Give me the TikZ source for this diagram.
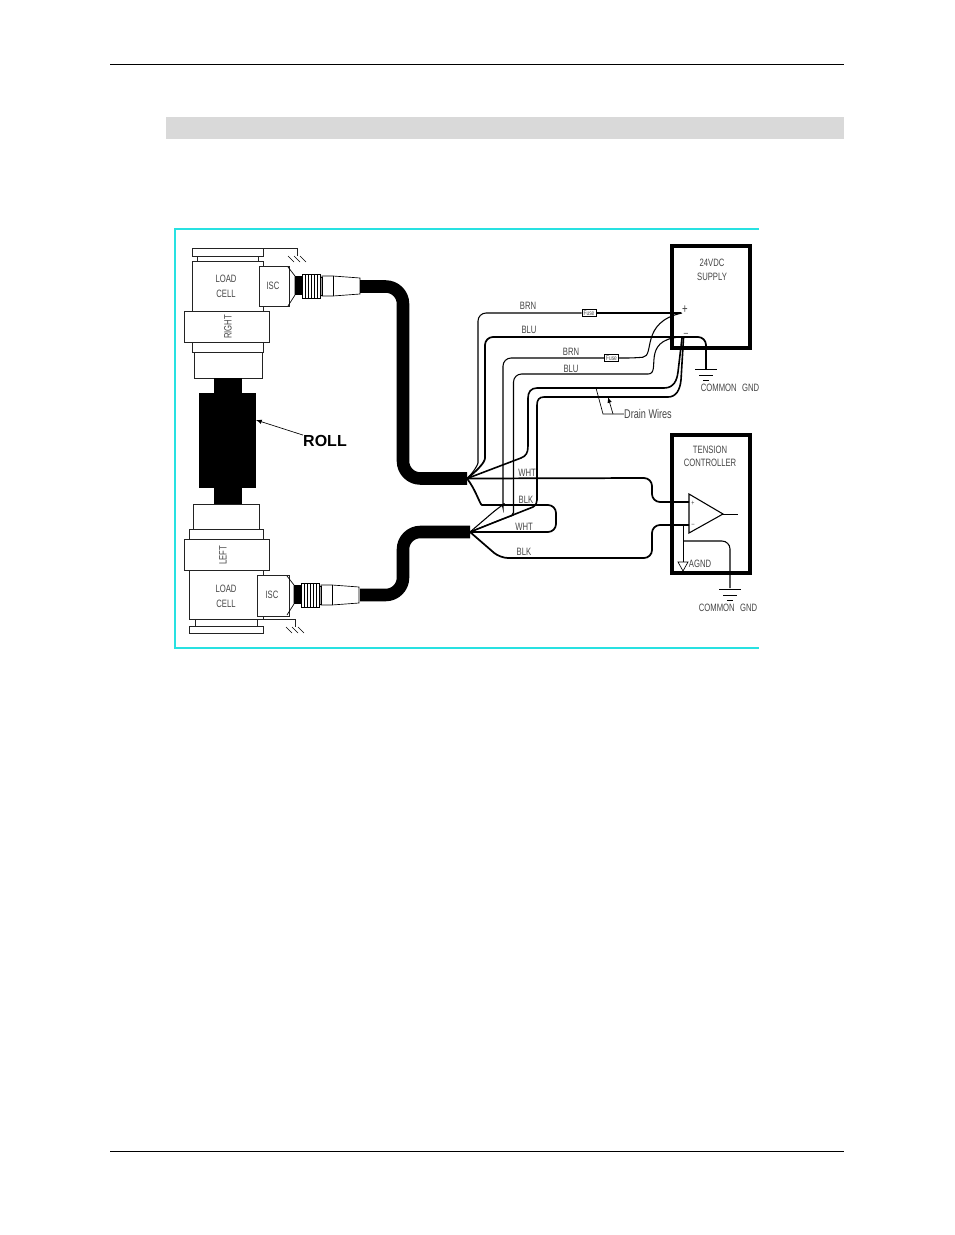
\documentclass[tikz,border=0pt]{standalone}
\usepackage{fontspec}
\setmainfont[FakeStretch=.72]{Liberation Sans}
\newfontfamily\rollfont{Liberation Sans}
\definecolor{framecyan}{RGB}{40,225,225}
\definecolor{bargray}{RGB}{217,217,217}
\definecolor{inktext}{RGB}{70,70,70}
\definecolor{inkpart}{RGB}{35,35,35}
\newcommand{\drawpart}{\draw[line width=.6pt,inkpart]}
\newcommand{\drawbox}{\draw[line width=2.4pt]}
\newcommand{\drawwire}{\draw[line width=.8pt,rounded corners=6pt]}
\newcommand{\drawwirethick}{\draw[line width=1.3pt,rounded corners=6pt]}
\newcommand{\drawdrain}{\draw[line width=1.2pt]}
\newcommand{\drawcable}{\draw[line width=9.4pt,rounded corners=13pt]}
\newcommand{\groundhatch}[2]{
    \foreach \s in {-6,0,6}{
      \draw[line width=.4pt] (#1+\s-3,#2)--(#1+\s+3,#2+6);
    }
}
\newcommand{\groundlines}[2]{
    \draw[line width=.7pt] (#1-11,#2)--(#1+11,#2);
    \draw[line width=.7pt] (#1-7,#2+6)--(#1+7,#2+6);
    \draw[line width=.7pt] (#1-3,#2+11)--(#1+3,#2+11);
}
\newcommand{\drawplug}[2]{
    \draw[line width=.5pt] (#1-2,#2-19)--(#1+5,#2-10)--(#1+5,#2+9)--(#1-2,#2+20);
    \fill (#1+5,#2-10) rectangle ++(7,19);
    \draw[line width=.5pt] (#1+12,#2-12) rectangle ++(18,24);
    \foreach \k in {1,...,5}{
      \draw[line width=.5pt] (#1+12+3*\k,#2-12)--++(0,24);
    }
    \draw[line width=.5pt] (#1+30,#2-9) rectangle ++(2,18);
    \draw[line width=.5pt] (#1+32,#2-10)--++(11,0)--++(27,2)--++(0,16)--++(-27,2)--++(-11,0)--cycle;
    \draw[line width=.5pt] (#1+43,#2-10)--++(0,20);
}
\tikzset{
  every node/.style={inner sep=0pt,text=inktext,font=\fontsize{8}{9}\selectfont},
  wirelabel/.style={font=\fontsize{8}{9}\selectfont},
  fusebox/.style={draw=black,line width=.5pt,fill=white,minimum width=10.5pt,minimum height=5pt,font=\fontsize{5}{5}\selectfont},
}
\begin{document}
\begin{tikzpicture}[x=.75pt,y=-.75pt]
\useasboundingbox (0,0) rectangle (954,1235);
\fill[white] (0,0) rectangle (954,1235);
\draw[line width=.75pt] (110,64)--(844,64);
\draw[line width=.75pt] (110,1151)--(844,1151);
\fill[bargray] (166,117) rectangle (844,139);
\draw[framecyan,line width=1.4pt] (759,229)--(175,229)--(175,648)--(759,648);

\drawpart (192,248) rectangle (263,256);
\drawpart (263,248)--++(34,0)--++(0,8);
\groundhatch{297}{256}
\drawpart (197,256) rectangle (258,261);
\drawpart (192,261) rectangle (263,311);
\drawpart (192,342) rectangle (263,352);
\drawpart (194,352) rectangle (262,378);
\drawpart (184,311) rectangle (269,342);
\drawpart[fill=white] (259,266) rectangle (289,306);
\node (loadright) at (226,286) [align=center] {LOAD\\[2.5pt]CELL};
\node (iscright) at (273,286) {ISC};
\node (bandright) at (228,327) [rotate=90] {RIGHT};

\fill (214,378) rectangle (242,393);
\fill (199,393) rectangle (256,488);
\fill (214,488) rectangle (242,504);
\node (roll) at (325,441) [font=\rollfont\bfseries\fontsize{12}{13}\selectfont,text=black] {ROLL};
\coordinate (rollhit) at (256,420);
\draw[line width=.5pt,-latex] (roll.north west)--(rollhit);

\drawpart (193,504) rectangle (259,529);
\drawpart (189,529) rectangle (263,539);
\drawpart (184,539) rectangle (269,570);
\drawpart (189,570) rectangle (263,619);
\drawpart[fill=white] (257,575) rectangle (289,616);
\drawpart (195,619) rectangle (257,626);
\drawpart (189,626) rectangle (263,633);
\drawpart (257,619)--++(38,0)--++(0,8);
\groundhatch{295}{627}
\node (bandleft) at (223,555) [rotate=90] {LEFT};
\node (loadleft) at (226,596) [align=center] {LOAD\\[2.5pt]CELL};
\node (iscleft) at (272,595) {ISC};

\drawplug{290}{286}
\drawplug{289}{595}

\coordinate (cableA) at (467,478.5);
\coordinate (cableB) at (470,532);
\drawcable (360,286.5)--(403,286.5)--(403,478.5)--(cableA);
\drawcable (360,595)--(403,595)--(403,532)--(cableB);

\drawbox (672,246) rectangle (750,348);
\drawbox (672,435) rectangle (750,573);
\node (supply) at (712,269.5) [align=center] {24VDC\\[1.5pt]SUPPLY};
\node (controller) at (710,456) [align=center] {TENSION\\[.5pt]CONTROLLER};
\node (plus) at (685,310) [font=\fontsize{10}{10}\selectfont] {+};
\node (minus) at (686,335) {--};

\node (fuseone) at (589,313) [fusebox] {Fuse};
\node (fusetwo) at (611.5,358) [fusebox] {Fuse};

\drawwire (cableA) .. controls (474,472) and (478,464) .. (478,455)--(478,313)--(fuseone);
\drawwirethick (fuseone)--(681,313);
\drawwirethick (cableA) .. controls (478,470) and (485,462) .. (485,450)--(485,337)--(706,337)--(706,369);
\drawwire (cableB)--(498,508) .. controls (501,506) and (503,505) .. (503,500)--(503,358)--(fusetwo);
\drawwire (fusetwo)--(635,358) .. controls (655,356) and (640,322) .. (682,313);
\drawwire (cableB)--(505,518) .. controls (511,516) and (513.5,512) .. (513.5,505)--(513.5,374)--(640,374) .. controls (662,374) and (640,340) .. (680,337);
\drawdrain (cableA)--(521,458) .. controls (526,456) and (528,453) .. (528,446)--(528,398) .. controls (528,392) and (531,388) .. (537,388)--(664,388) .. controls (674,388) and (677,380) .. (678,372)--(682,338);
\drawdrain (cableB)--(533,507) .. controls (536,505) and (537,503) .. (537,500)--(537,405) .. controls (537,400) and (539,397) .. (544,397)--(668,397) .. controls (676,397) and (680,390) .. (681,380)--(683.5,338);

\groundlines{706}{369}
\node (gndsupply) at (730,388) {COMMON\enspace GND};

\coordinate (drainleft) at (596,388);
\coordinate (drainright) at (608,397);
\node (drain) at (648,414) [font=\fontsize{9.5}{10}\selectfont] {Drain Wires};
\draw[line width=.5pt] (drainleft)--(603,414)--(drain.west);
\draw[line width=.5pt,-latex] (613,414)--(drainright);

\draw[line width=.8pt,fill=white] (689,494)--(689,533)--(723,514)--cycle;
\coordinate (ampplus) at (689,502);
\coordinate (ampminus) at (689,525);
\coordinate (ampout) at (738,514);
\draw[line width=.6pt] (723,514)--(ampout);
\node at (693,503) [font=\fontsize{5.5}{6}\selectfont] {+};
\node at (693,525) [font=\fontsize{5.5}{6}\selectfont] {--};

\drawwirethick (cableA)--(652,478)--(652,502)--(ampplus);
\drawwirethick (cableA) .. controls (476,490) and (480,505) .. (490,505)--(556,505)--(556,532)--(cableB);
\drawwirethick (cableB)--(500,558)--(652,558)--(652,525)--(ampminus);

\coordinate (agnd) at (683,562);
\draw[line width=.7pt] (683,525)--(agnd);
\draw[line width=.5pt] (678,562)--(688,562)--(683,571)--cycle;
\node (agndlabel) at (700,564) {AGND};
\drawwire (683,541)--(730,541)--(730,588);
\groundlines{730}{589}
\node (gndcontrol) at (728,608) {COMMON\enspace GND};

\node (brnone) at (528,306) [wirelabel] {BRN};
\node (bluone) at (529,330) [wirelabel] {BLU};
\node (brntwo) at (571,352) [wirelabel] {BRN};
\node (blutwo) at (571,369) [wirelabel] {BLU};
\node (whtone) at (527,473) [wirelabel] {WHT};
\node (blkone) at (526,500) [wirelabel] {BLK};
\node (whttwo) at (524,527) [wirelabel] {WHT};
\node (blktwo) at (524,552) [wirelabel] {BLK};
\end{tikzpicture}
\end{document}
